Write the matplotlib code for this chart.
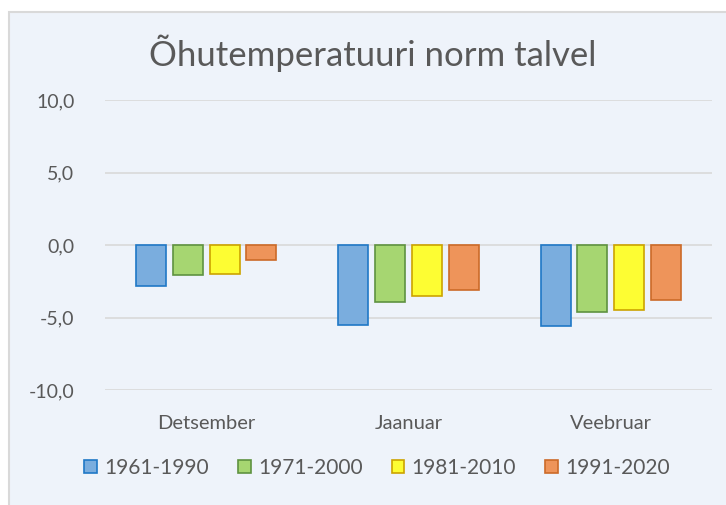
import numpy as np
import matplotlib.pyplot as plt
from matplotlib.patches import Rectangle, Patch

# data
months = ["Detsember", "Jaanuar", "Veebruar"]
periods = ["1961-1990", "1971-2000", "1981-2010", "1991-2020"]
temp_1961 = [-2.8, -5.5, -5.6]
temp_1971 = [-2.1, -3.9, -4.6]
temp_1981 = [-2.0, -3.5, -4.5]
temp_1991 = [-1.0, -3.1, -3.8]
yticks = [-10, -5, 0, 5, 10]

series = [temp_1961, temp_1971, temp_1981, temp_1991]
fills = ["#7AADDE", "#A6D671", "#FDFD33", "#EE945A"]
edges = ["#1F78C6", "#5E9240", "#CCA300", "#CC6A28"]

bg = "#EEF3FA"
txt = "#595959"
font = "Lato"

W, H = 726, 505
fig = plt.figure(figsize=(W / 100, H / 100), dpi=100)
fig.patch.set_facecolor("white")

# chart area background with thin border (top/left visible)
fig.patches.append(Rectangle((9 / W, -0.01), 1.0, 1 - 12 / H + 0.01,
                             transform=fig.transFigure, facecolor=bg,
                             edgecolor="#D9D9D9", linewidth=1.5, zorder=-10))

ax = fig.add_axes([105 / W, 1 - 390 / H, (712 - 105) / W, (390 - 100) / H])
ax.set_zorder(5)
ax.patch.set_alpha(0)

x = np.arange(len(months))
pitch = 0.182
width = 0.148
for i, vals in enumerate(series):
    ax.bar(x + (i - 1.5) * pitch, vals, width, color=fills[i],
           edgecolor=edges[i], linewidth=1.2, zorder=3, label=periods[i])

ax.set_xlim(-0.5, 2.5)
ax.set_ylim(-10, 10)
ax.set_yticks(yticks)
ax.set_yticklabels([f"{v:.1f}".replace(".", ",") for v in yticks],
                   fontsize=14, color=txt, family=font)
ax.set_xticks(x)
ax.set_xticklabels(months, fontsize=14.5, color=txt, family=font)
ax.tick_params(axis="y", length=0, pad=22)
ax.tick_params(axis="x", length=0, pad=18)
ax.grid(axis="y", color="#D9D9D9", linewidth=1.2, zorder=0)
for s in ax.spines.values():
    s.set_visible(False)

fig.text(373 / W, 1 - 53 / H, "Õhutemperatuuri norm talvel", ha="center",
         va="center", fontsize=25, color=txt, family=font)

handles = [Patch(facecolor=fills[i], edgecolor=edges[i], linewidth=1.2)
           for i in range(4)]
leg = fig.legend(handles, periods, loc="center", ncol=4,
                 bbox_to_anchor=(377 / W, 1 - 468 / H), frameon=False,
                 prop={"family": font, "size": 15}, handlelength=0.6,
                 handleheight=0.6, handletextpad=0.35, columnspacing=1.4,
                 labelcolor=txt)
leg.set_zorder(6)

fig.savefig("out.png", dpi=100, facecolor=fig.get_facecolor())
